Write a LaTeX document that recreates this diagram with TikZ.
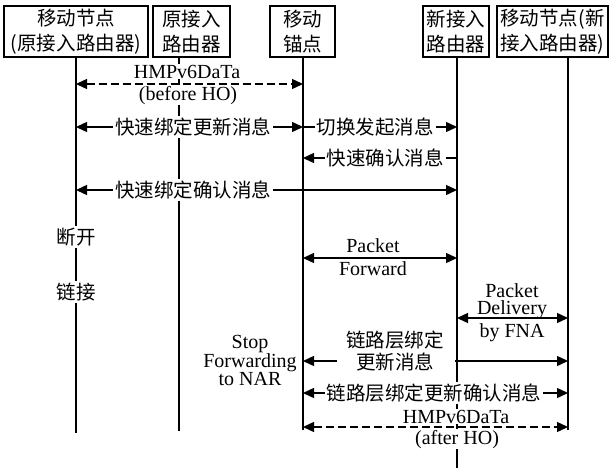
\documentclass[tikz,border=0pt]{standalone}
\usepackage{fontspec}
\setmainfont{Liberation Serif}
\newfontfamily\cjk{Noto Sans CJK SC}
\usetikzlibrary{arrows.meta}
\begin{document}
\begin{tikzpicture}[x=1pt,y=-1pt,
  box/.style={draw, line width=1.6pt, minimum height=51pt, inner sep=0pt, align=center, font=\cjk\fontsize{19.5}{25}\selectfont},
  life/.style={line width=1.6pt},
  msg/.style={line width=1.4pt},
  tip/.style={-{Triangle[length=11pt,width=10pt]}},
  both/.style={{Triangle[length=11pt,width=10pt]}-{Triangle[length=11pt,width=10pt]}},
  dsh/.style={dash pattern=on 8pt off 4pt},
  lab/.style={fill=white, inner sep=2pt, font=\cjk\fontsize{19.5}{23}\selectfont},
  en/.style={inner sep=1pt, font=\fontsize{20}{22}\selectfont},
]
\useasboundingbox (0,0) rectangle (609,468);
% header boxes
\node[box, minimum width=144pt] (b1) at (76,31.5) {移动节点\\(原接入路由器)};
\node[box, minimum width=77pt] (b2) at (191.5,31.5) {原接入\\路由器};
\node[box, minimum width=65pt] (b3) at (302.5,31.5) {移动\\锚点};
\node[box, minimum width=66pt] (b4) at (456,31.5) {新接入\\路由器};
\node[box, minimum width=111pt] (b5) at (552.5,31.5) {移动节点(新\\接入路由器)};
% lifeline ends
\coordinate (e1) at (76,433);
\coordinate (e2) at (179,431);
\coordinate (e3) at (303,430);
\coordinate (e4) at (457,468);
\coordinate (e5) at (568,430);
\draw[life] (b1.south -| e1) -- (e1);
\draw[life] (b2.south -| e2) -- (e2);
\draw[life] (b3.south -| e3) -- (e3);
\draw[life] (b4.south -| e4) -- (e4);
\draw[life] (b5.south -| e5) -- (e5);
% message end points
\coordinate (m1a) at (76,84);  \coordinate (m1b) at (303,84);
\coordinate (m2a) at (76,127); \coordinate (m2b) at (303,127);
\coordinate (m3b) at (457,127);
\coordinate (m4a) at (303,158); \coordinate (m4b) at (457,158);
\coordinate (m5a) at (76,190); \coordinate (m5b) at (457,190);
\coordinate (m6a) at (303,258); \coordinate (m6b) at (457,258);
\coordinate (m7a) at (457,318); \coordinate (m7b) at (568,318);
\coordinate (m8a) at (303,361); \coordinate (m8l) at (337,361);
\coordinate (m8r) at (455,361); \coordinate (m8b) at (568,361);
\coordinate (m9a) at (303,393); \coordinate (m9b) at (568,393);
\coordinate (m10a) at (303,427); \coordinate (m10b) at (568,427);
% arrows under labels
\draw[msg,both] (m2a) -- (m2b);
\draw[msg,tip] (m2b) -- (m3b);
\draw[msg,tip] (m4b) -- (m4a);
\draw[msg,both] (m5a) -- (m5b);
\draw[msg,both] (m6a) -- (m6b);
\draw[msg,both] (m7a) -- (m7b);
\draw[msg,tip] (m8l) -- (m8a);
\draw[msg,tip] (m8r) -- (m8b);
\draw[msg,both] (m9a) -- (m9b);
% labels
\node[en, fill=white, anchor=base] (h1a) at (187,78) {HMPv6DaTa};
\node[en, fill=white, anchor=base] (h1b) at (188,100) {(before HO)};
\node[lab] (t2) at (193,127) {快速绑定更新消息};
\node[lab] (t3) at (375,127) {切换发起消息};
\node[lab] (t4) at (385,158) {快速确认消息};
\node[lab] (t5) at (193,190) {快速绑定确认消息};
\node[lab] (dk) at (76,237) {断开};
\node[lab] (lj) at (76,292) {链接};
\node[en, anchor=base] (pf1) at (373,252) {Packet};
\node[en, anchor=base] (pf2) at (373,275) {Forward};
\node[en, anchor=base] (pd1) at (512,297) {Packet};
\node[en, anchor=base] (pd2) at (512,314) {Delivery};
\node[en, anchor=base] (pd3) at (512,337) {by FNA};
\node[en, anchor=base] (sf1) at (250,348) {Stop};
\node[en, anchor=base] (sf2) at (250,367) {Forwarding};
\node[en, anchor=base] (sf3) at (250,385) {to NAR};
\node[lab, fill=none] (t8a) at (395,340) {链路层绑定};
\node[lab, fill=none] (t8b) at (395,362) {更新消息};
\node[lab] (t9) at (434,393) {链路层绑定更新确认消息};
\node[en, fill=white, anchor=base] (h2a) at (456,423) {HMPv6DaTa};
\node[en, fill=white, anchor=base] (h2b) at (457,444) {(after HO)};
% dashed arrows on top
\draw[msg,both,dsh] (m1a) -- (m1b);
\draw[msg,both,dsh] (m10a) -- (m10b);
\end{tikzpicture}
\end{document}
